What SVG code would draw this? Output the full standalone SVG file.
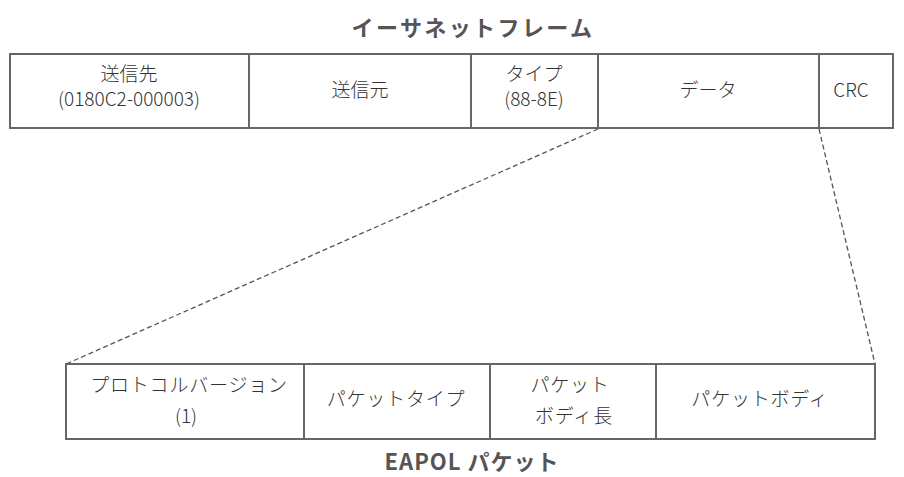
<svg xmlns="http://www.w3.org/2000/svg" width="904" height="477" viewBox="0 0 904 477">
<style>
.box{fill:#fff;stroke:#666;stroke-width:2}
.div{stroke:#666;stroke-width:2}
.t{font-family:"Noto Sans CJK JP","Noto Sans",sans-serif;font-size:19px;font-weight:300;fill:#333;text-anchor:middle}
.h{font-family:"Noto Sans CJK JP","Noto Sans",sans-serif;font-size:22px;font-weight:bold;fill:#555;text-anchor:middle}
.dash{stroke:#555;stroke-width:1.3;stroke-dasharray:5,3;fill:none}
</style>
<rect width="904" height="477" fill="#fff"/>
<text class="h" x="473" y="36" letter-spacing="2.4">イーサネットフレーム</text>
<g id="frame">
<rect class="box" x="10" y="54" width="883" height="74"/>
</g>
<g id="dst"><line class="div" x1="249" y1="54" x2="249" y2="128"/>
<text class="t" x="129" y="81">送信先</text><text class="t" x="129" y="106">(0180C2-000003)</text></g>
<g id="src"><line class="div" x1="471" y1="54" x2="471" y2="128"/>
<text class="t" x="360" y="97">送信元</text></g>
<g id="type"><line class="div" x1="598" y1="54" x2="598" y2="128"/>
<text class="t" x="534" y="81">タイプ</text><text class="t" x="534" y="106">(88-8E)</text></g>
<g id="data"><line class="div" x1="819" y1="54" x2="819" y2="128"/>
<text class="t" x="708" y="97">データ</text></g>
<g id="crc"><text class="t" x="851" y="97">CRC</text></g>
<g id="connectors">
<line class="dash" x1="598" y1="129" x2="66" y2="364"/>
<line class="dash" x1="819" y1="129" x2="875" y2="364"/>
</g>
<g id="eapol"><rect class="box" x="66" y="364" width="809" height="75"/></g>
<g id="ver"><text class="t" x="189" y="392" letter-spacing="0.8">プロトコルバージョン</text><text class="t" x="186" y="423">(1)</text>
<line class="div" x1="304" y1="364" x2="304" y2="439"/></g>
<g id="ptype"><text class="t" x="396" y="406" letter-spacing="0.8">パケットタイプ</text>
<line class="div" x1="490" y1="364" x2="490" y2="439"/></g>
<g id="plen"><text class="t" x="570" y="392" letter-spacing="0.8">パケット</text><text class="t" x="574" y="423" letter-spacing="0.8">ボディ長</text>
<line class="div" x1="656" y1="364" x2="656" y2="439"/></g>
<g id="pbody"><text class="t" x="760" y="406" letter-spacing="0.8">パケットボディ</text></g>
<text class="h" x="472" y="470" letter-spacing="1">EAPOL パケット</text>
</svg>
